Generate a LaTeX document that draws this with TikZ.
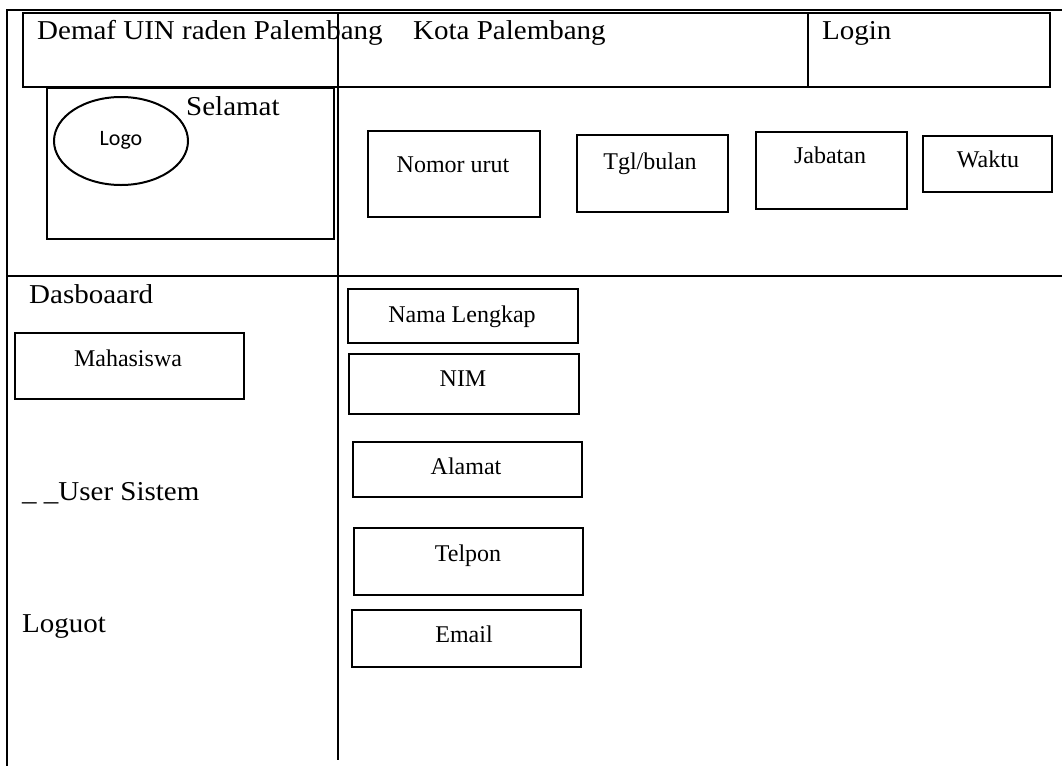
\documentclass[tikz,border=0pt]{standalone}
\usepackage{fontspec}
\setmainfont{Liberation Serif}
\newfontfamily\logofont{Carlito}
\usetikzlibrary{shapes.geometric}
\newcommand\sq[1]{\scalebox{1}[0.94]{#1}}
\begin{document}
\begin{tikzpicture}[x=1pt,y=-1pt,
  outer/.style={line width=2.6pt},
  thinline/.style={line width=1.1pt},
  box/.style={draw, line width=2.2pt, inner sep=0pt, anchor=north west},
  big/.style={anchor=base west, inner sep=0pt, font=\fontsize{29}{32}\selectfont},
  small/.style={anchor=base, inner sep=0pt, font=\fontsize{24}{26}\selectfont}]
\useasboundingbox (0,0) rectangle (1062,766);
% frame coordinates
\coordinate (tl) at (7,10);
\coordinate (tr) at (1062,10);
\coordinate (bl) at (7,766);
\coordinate (ml) at (7,276);
\coordinate (mr) at (1062,276);
\coordinate (dt) at (338,12);
\coordinate (db) at (338,760);
\coordinate (lt) at (808,12);
\coordinate (lb) at (808,86);
\draw[outer] (tr) -- (tl) -- (bl);
\draw[line width=2.3pt] (ml) -- (mr);
% header
\node[box, minimum width=1027, minimum height=74] (header) at (22,12) {};
\draw[line width=2pt] (lt) -- (lb);
\draw[thinline] (dt) -- (db);
% welcome box
\node[box, minimum width=287, minimum height=151] (welcome) at (46,87) {};
\node[draw, ellipse, line width=2pt, minimum width=134, minimum height=88, inner sep=0pt] (logo) at (121,141) {};
\node[anchor=base, inner sep=0pt, font=\logofont\fontsize{22}{24}\selectfont] (logoT) at (121,145) {Logo};
% header texts
\node[big] (demaf) at (37,39) {\sq{Demaf UIN raden Palembang}};
\node[big] (kota) at (413,39) {\sq{Kota Palembang}};
\node[big] (login) at (822,39) {\sq{Login}};
\node[big] (selamat) at (186,115) {\sq{Selamat}};
% top right boxes
\node[box, minimum width=172, minimum height=86] (nomor) at (367,130) {};
\node[small] (nomorT) at (453,172) {Nomor urut};
\node[box, minimum width=151, minimum height=77] (tgl) at (576,134) {};
\node[small] (tglT) at (650,169) {Tgl/bulan};
\node[box, minimum width=151, minimum height=77] (jab) at (755,131) {};
\node[small] (jabT) at (830,163) {Jabatan};
\node[box, minimum width=129, minimum height=56] (waktu) at (922,135) {};
\node[small] (waktuT) at (988,167) {Waktu};
% left menu
\node[big] (dash) at (29,303) {\sq{Dasboaard}};
\node[box, minimum width=229, minimum height=66] (mhs) at (14,332) {};
\node[small] (mhsT) at (128,366) {Mahasiswa};
\node[big] (user) at (22,500) {\sq{\_ \_User Sistem}};
\node[big] (logout) at (22,632) {\sq{Loguot}};
% form fields
\node[box, minimum width=230, minimum height=54] (nama) at (347,288) {};
\node[small] (namaT) at (462,322) {Nama Lengkap};
\node[box, minimum width=230, minimum height=60] (nim) at (348,353) {};
\node[small] (nimT) at (463,386) {NIM};
\node[box, minimum width=229, minimum height=55] (alamat) at (352,441) {};
\node[small] (alamatT) at (466,474) {Alamat};
\node[box, minimum width=229, minimum height=67] (telpon) at (353,527) {};
\node[small] (telponT) at (468,561) {Telpon};
\node[box, minimum width=229, minimum height=57] (email) at (351,609) {};
\node[small] (emailT) at (464,642) {Email};
\end{tikzpicture}
\end{document}
